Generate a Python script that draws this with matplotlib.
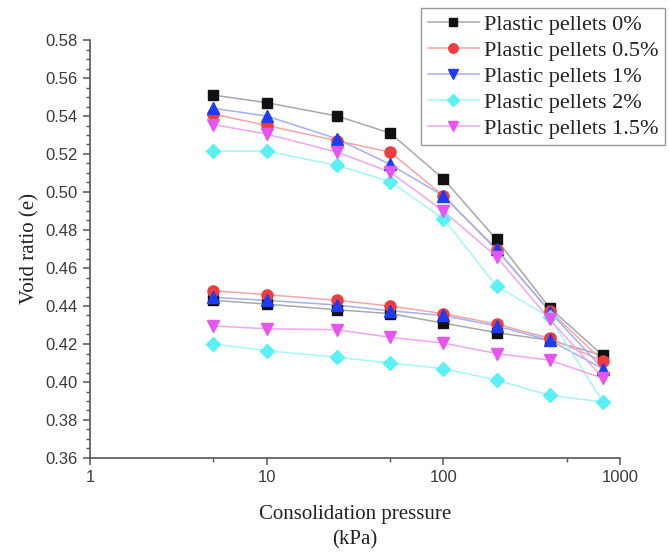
import matplotlib
matplotlib.use("Agg")
import matplotlib.pyplot as plt
from matplotlib.lines import Line2D
from matplotlib.ticker import FixedLocator, MultipleLocator, NullFormatter
import numpy as np

# loading 5 -> 800 kPa, then unloading back to 5 kPa
pressure = [5, 10, 25, 50, 100, 200, 400, 800, 400, 200, 100, 50, 25, 10, 5]

e_0 = [0.551, 0.547, 0.540, 0.531, 0.507, 0.475, 0.439, 0.414,
       0.422, 0.426, 0.431, 0.436, 0.438, 0.441, 0.443]
e_05 = [0.541, 0.535, 0.527, 0.521, 0.498, 0.4695, 0.4375, 0.411,
        0.423, 0.4305, 0.436, 0.440, 0.443, 0.446, 0.448]
e_1 = [0.544, 0.540, 0.528, 0.5145, 0.498, 0.470, 0.437, 0.407,
       0.422, 0.4295, 0.435, 0.4375, 0.4405, 0.443, 0.4445]
e_2 = [0.5215, 0.5215, 0.514, 0.5055, 0.486, 0.4505, 0.434, 0.3895,
       0.393, 0.401, 0.407, 0.410, 0.413, 0.4165, 0.420]
e_15 = [0.5355, 0.5305, 0.521, 0.5105, 0.490, 0.466, 0.433, 0.402,
        0.4115, 0.415, 0.4205, 0.4235, 0.4275, 0.428, 0.4295]

labels = ["Plastic pellets 0%", "Plastic pellets 0.5%", "Plastic pellets 1%",
          "Plastic pellets 2%", "Plastic pellets 1.5%"]

series = [e_0, e_05, e_1, e_2, e_15]
colors = ["#111111", "#f03c3c", "#1e3cf5", "#5af0f5", "#e655ee"]
line_colors = ["#a8a8a8", "#f5a5a5", "#a5aef5", "#a5f5f8", "#f0a5f3"]
markers = ["s", "o", "^", "D", "v"]
legend_markers = ["s", "o", "v", "D", "v"]
msizes = [6.5, 8, 8.5, 7.5, 8.5]

fig = plt.figure(figsize=(6.69, 5.56), dpi=100)
ax = fig.add_axes([90/669, 1-458/556, 530/669, 418/556])

for y, c, lc, m, ms in zip(series, colors, line_colors, markers, msizes):
    ax.plot(pressure, y, color=lc, lw=1.1, zorder=2)
    ax.plot(pressure, y, ls="none", marker=m, ms=ms, mfc=c, mec=c, zorder=3)

ax.set_xscale("log")
ax.set_xlim(1, 1000)
ax.set_ylim(0.36, 0.58)
ax.xaxis.set_major_locator(FixedLocator([1, 10, 100, 1000]))
ax.xaxis.set_minor_locator(FixedLocator([5, 50, 500]))
ax.xaxis.set_minor_formatter(NullFormatter())
ax.set_xticklabels(["1", "10", "100", "1000"])
ax.yaxis.set_major_locator(MultipleLocator(0.02))
ax.yaxis.set_minor_locator(MultipleLocator(0.005))
ax.yaxis.set_major_formatter(plt.FuncFormatter(lambda v, p: f"{v:.2f}"))

for s in ["top", "right"]:
    ax.spines[s].set_visible(False)
for s in ["left", "bottom"]:
    ax.spines[s].set_color("#555555")
    ax.spines[s].set_linewidth(1.2)
ax.tick_params(which="major", length=5, width=1.1, color="#555555",
               labelsize=12, labelcolor="#3a3a3a", pad=4)
ax.tick_params(which="minor", length=3, width=1.0, color="#555555")
for t in ax.get_xticklabels() + ax.get_yticklabels():
    t.set_fontfamily("Liberation Sans")

ax.set_ylabel("Void ratio (e)", fontfamily="Liberation Serif", fontsize=15,
              color="#222222", labelpad=4)
ax.set_xlabel("Consolidation pressure\n(kPa)", fontfamily="Liberation Serif",
              fontsize=15, color="#222222", labelpad=14, linespacing=1.45)

handles = [Line2D([], [], color=lc, lw=1.1, marker=m, ms=ms*0.85, mfc=c, mec=c)
           for c, lc, m, ms in zip(colors, line_colors, legend_markers, msizes)]
leg = ax.legend(handles, labels, loc="upper right",
                bbox_to_anchor=(665/669, 1-8/556), bbox_transform=fig.transFigure,
                borderaxespad=0, fancybox=False, framealpha=1, edgecolor="#999999",
                prop={"family": "Liberation Serif", "size": 16},
                handlelength=2.3, handletextpad=0.22, labelspacing=0.24,
                borderpad=0.3)
leg.get_frame().set_linewidth(1.0)
for t in leg.get_texts():
    t.set_color("#222222")

fig.savefig("out.png", dpi=100)
